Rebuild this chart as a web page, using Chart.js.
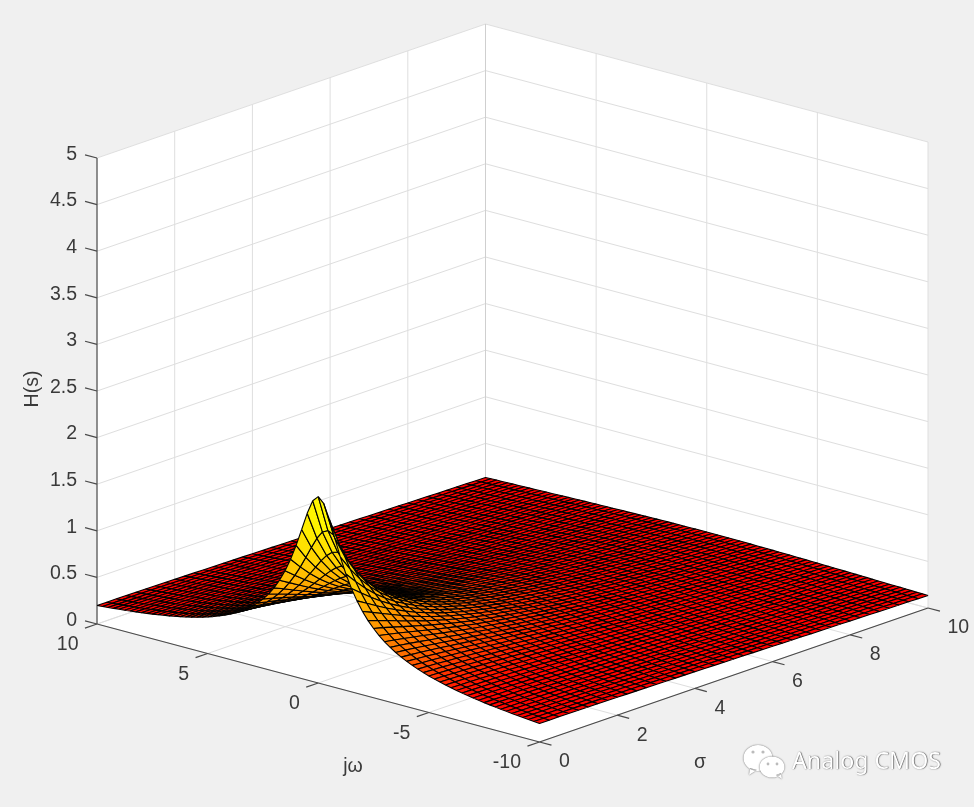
<!DOCTYPE html>
<html><head><meta charset="utf-8">
<style>html,body{margin:0;padding:0;background:#f0f0f0}canvas{display:block}</style>
<script src="https://cdn.jsdelivr.net/npm/chart.js@4"></script>
</head><body><canvas id="c" width="974" height="807"></canvas>
<script>
const sigmaTicks=[0,2,4,6,8,10];
const omegaTicks=[10,5,0,-5,-10];
const zTicks=[0,0.5,1,1.5,2,2.5,3,3.5,4,4.5,5];
const zTickLabels=['0','0.5','1','1.5','2','2.5','3','3.5','4','4.5','5'];
const sigmaGrid=[0,.25,.5,.75,1,1.25,1.5,1.75,2,2.25,2.5,2.75,3,3.25,3.5,3.75,4,4.25,4.5,4.75,5,5.25,5.5,5.75,6,6.25,6.5,6.75,7,7.25,7.5,7.75,8,8.25,8.5,8.75,9,9.25,9.5,9.75,10];
const omegaMagnitudes=[0,.25,.5,.75,1,1.25,1.5,1.75,2,2.25,2.5,2.75,3,3.25,3.5,3.75,4,4.25,4.5,4.75,5,5.25,5.5,5.75,6,6.25,6.5,6.75,7,7.25,7.5,7.75,8,8.25,8.5,8.75,9,9.25,9.5,9.75,10];
const omegaGrid=[10,9.75,9.5,9.25,9,8.75,8.5,8.25,8,7.75,7.5,7.25,7,6.75,6.5,6.25,6,5.75,5.5,5.25,5,4.75,4.5,4.25,4,3.75,3.5,3.25,3,2.75,2.5,2.25,2,1.75,1.5,1.25,1,.75,.5,.25,0,-.25,-.5,-.75,-1,-1.25,-1.5,-1.75,-2,-2.25,-2.5,-2.75,-3,-3.25,-3.5,-3.75,-4,-4.25,-4.5,-4.75,-5,-5.25,-5.5,-5.75,-6,-6.25,-6.5,-6.75,-7,-7.25,-7.5,-7.75,-8,-8.25,-8.5,-8.75,-9,-9.25,-9.5,-9.75,-10];
// |H(s)|: one row per |jω|, one value per σ in sigmaGrid
const magnitudeRows=[
[2,1.6,1.333,1.143,1,.889,.8,.727,.667,.615,.571,.533,.5,.471,.444,.421,.4,.381,.364,.348,.333,.32,.308,.296,.286,.276,.267,.258,.25,.242,.235,.229,.222,.216,.211,.205,.2,.195,.19,.186,.182],
[1.94,1.569,1.315,1.131,.992,.883,.796,.724,.664,.614,.57,.532,.499,.47,.444,.42,.4,.381,.363,.348,.333,.32,.307,.296,.286,.276,.267,.258,.25,.242,.235,.229,.222,.216,.21,.205,.2,.195,.19,.186,.182],
[1.789,1.486,1.265,1.099,.97,.868,.784,.716,.658,.608,.566,.529,.496,.467,.442,.419,.398,.379,.362,.347,.332,.319,.307,.296,.285,.275,.266,.258,.25,.242,.235,.228,.222,.216,.21,.205,.2,.195,.19,.186,.182],
[1.6,1.372,1.193,1.05,.936,.843,.766,.702,.647,.6,.559,.523,.491,.463,.438,.416,.396,.377,.36,.345,.331,.318,.306,.294,.284,.274,.265,.257,.249,.241,.234,.228,.221,.216,.21,.205,.199,.195,.19,.186,.181],
[1.414,1.249,1.109,.992,.894,.812,.743,.683,.632,.588,.549,.515,.485,.458,.434,.412,.392,.374,.358,.343,.329,.316,.304,.293,.283,.273,.264,.256,.248,.241,.234,.227,.221,.215,.209,.204,.199,.194,.19,.185,.181],
[1.249,1.131,1.024,.93,.848,.777,.716,.662,.615,.574,.538,.506,.477,.451,.428,.407,.388,.371,.355,.34,.326,.314,.302,.291,.281,.272,.263,.255,.247,.24,.233,.226,.22,.214,.209,.203,.198,.194,.189,.185,.181],
[1.109,1.024,.943,.868,.8,.74,.686,.638,.596,.559,.525,.495,.468,.444,.422,.402,.383,.366,.351,.337,.323,.311,.3,.289,.279,.27,.261,.253,.246,.239,.232,.225,.219,.213,.208,.203,.198,.193,.189,.184,.18],
[.992,.93,.868,.808,.753,.702,.655,.614,.576,.542,.511,.483,.458,.435,.414,.395,.378,.361,.347,.333,.32,.308,.297,.287,.277,.268,.26,.252,.244,.237,.23,.224,.218,.212,.207,.202,.197,.192,.188,.184,.18],
[.894,.848,.8,.753,.707,.664,.625,.588,.555,.524,.496,.471,.447,.426,.406,.388,.371,.356,.342,.329,.316,.305,.294,.284,.275,.266,.258,.25,.243,.236,.229,.223,.217,.211,.206,.201,.196,.192,.187,.183,.179],
[.812,.777,.74,.702,.664,.629,.595,.563,.533,.506,.481,.457,.436,.416,.398,.381,.365,.35,.337,.324,.312,.301,.291,.281,.272,.263,.255,.248,.241,.234,.227,.221,.216,.21,.205,.2,.195,.191,.186,.182,.178],
[.743,.716,.686,.655,.625,.595,.566,.538,.512,.488,.465,.444,.424,.406,.389,.373,.358,.344,.331,.319,.308,.297,.287,.278,.269,.261,.253,.246,.239,.232,.226,.22,.214,.209,.204,.199,.194,.19,.185,.181,.177],
[.683,.662,.638,.614,.588,.563,.538,.514,.491,.47,.449,.43,.412,.395,.379,.364,.35,.337,.325,.314,.303,.293,.283,.274,.266,.258,.25,.243,.236,.23,.224,.218,.213,.207,.202,.197,.193,.188,.184,.18,.176],
[.632,.615,.596,.576,.555,.533,.512,.491,.471,.452,.434,.416,.4,.384,.37,.356,.343,.331,.319,.308,.298,.288,.279,.271,.263,.255,.248,.241,.234,.228,.222,.216,.211,.206,.201,.196,.192,.187,.183,.179,.175],
[.588,.574,.559,.542,.524,.506,.488,.469,.452,.435,.418,.403,.388,.373,.36,.347,.335,.324,.313,.302,.293,.283,.275,.267,.259,.252,.245,.238,.232,.226,.22,.214,.209,.204,.199,.195,.19,.186,.182,.178,.174],
[.549,.538,.525,.511,.496,.481,.465,.449,.434,.419,.404,.39,.376,.363,.351,.339,.328,.317,.307,.297,.288,.279,.271,.263,.256,.248,.242,.235,.229,.223,.218,.212,.207,.202,.198,.193,.189,.185,.181,.177,.173],
[.515,.506,.495,.483,.471,.457,.444,.43,.416,.403,.39,.377,.365,.353,.341,.33,.32,.31,.3,.291,.283,.274,.266,.259,.252,.245,.239,.232,.226,.221,.215,.21,.205,.2,.196,.191,.187,.183,.179,.176,.172],
[.485,.477,.468,.458,.447,.436,.424,.412,.4,.388,.376,.365,.354,.343,.332,.322,.312,.303,.294,.286,.277,.27,.262,.255,.248,.242,.235,.229,.224,.218,.213,.208,.203,.198,.194,.19,.186,.182,.178,.174,.171],
[.458,.451,.444,.435,.426,.416,.406,.395,.384,.373,.363,.353,.343,.333,.323,.314,.305,.296,.288,.28,.272,.265,.258,.251,.244,.238,.232,.226,.221,.216,.21,.205,.201,.196,.192,.188,.184,.18,.177,.173,.169],
[.434,.428,.422,.414,.406,.398,.389,.379,.37,.36,.351,.341,.332,.323,.314,.306,.297,.289,.281,.274,.267,.26,.253,.247,.24,.234,.229,.223,.218,.213,.208,.203,.199,.194,.19,.186,.182,.179,.175,.172,.168],
[.412,.407,.402,.395,.388,.381,.373,.364,.356,.347,.339,.33,.322,.314,.306,.298,.29,.282,.275,.268,.261,.255,.248,.242,.236,.231,.225,.22,.215,.21,.205,.201,.197,.192,.188,.184,.181,.177,.174,.17,.167],
[.392,.388,.383,.378,.371,.365,.358,.35,.343,.335,.328,.32,.312,.305,.297,.29,.283,.276,.269,.262,.256,.25,.244,.238,.232,.227,.222,.217,.212,.207,.203,.198,.194,.19,.186,.183,.179,.175,.172,.169,.166],
[.374,.371,.366,.361,.356,.35,.344,.337,.331,.324,.317,.31,.303,.296,.289,.282,.276,.269,.263,.257,.251,.245,.239,.234,.229,.223,.218,.214,.209,.204,.2,.196,.192,.188,.184,.181,.177,.174,.17,.167,.164],
[.358,.355,.351,.347,.342,.337,.331,.325,.319,.313,.307,.3,.294,.288,.281,.275,.269,.263,.257,.251,.246,.24,.235,.23,.225,.22,.215,.21,.206,.202,.198,.194,.19,.186,.182,.179,.175,.172,.169,.166,.163],
[.343,.34,.337,.333,.329,.324,.319,.314,.308,.303,.297,.291,.286,.28,.274,.268,.262,.257,.251,.246,.241,.235,.23,.226,.221,.216,.212,.207,.203,.199,.195,.191,.187,.184,.18,.177,.173,.17,.167,.164,.161],
[.329,.326,.323,.32,.316,.312,.308,.303,.298,.293,.288,.283,.277,.272,.267,.261,.256,.251,.246,.241,.236,.231,.226,.221,.217,.213,.208,.204,.2,.196,.192,.189,.185,.181,.178,.175,.171,.168,.165,.162,.16],
[.316,.314,.311,.308,.305,.301,.297,.293,.288,.284,.279,.275,.27,.265,.26,.255,.25,.245,.24,.235,.231,.226,.222,.217,.213,.209,.205,.201,.197,.193,.189,.186,.182,.179,.176,.173,.169,.166,.163,.161,.158],
[.304,.302,.3,.297,.294,.291,.287,.283,.279,.275,.271,.267,.262,.258,.253,.248,.244,.239,.235,.23,.226,.222,.218,.213,.209,.205,.202,.198,.194,.19,.187,.183,.18,.177,.174,.171,.168,.165,.162,.159,.157],
[.293,.291,.289,.287,.284,.281,.278,.274,.271,.267,.263,.259,.255,.251,.246,.242,.238,.234,.23,.225,.221,.217,.213,.209,.205,.202,.198,.195,.191,.188,.184,.181,.178,.175,.172,.169,.166,.163,.16,.158,.155],
[.283,.281,.279,.277,.275,.272,.269,.266,.263,.259,.256,.252,.248,.244,.24,.236,.232,.229,.225,.221,.217,.213,.209,.206,.202,.198,.195,.192,.188,.185,.182,.178,.175,.172,.169,.167,.164,.161,.158,.156,.153],
[.273,.272,.27,.268,.266,.263,.261,.258,.255,.252,.249,.245,.242,.238,.234,.231,.227,.224,.22,.216,.213,.209,.205,.202,.198,.195,.192,.188,.185,.182,.179,.176,.173,.17,.167,.165,.162,.159,.157,.154,.152],
[.264,.263,.261,.26,.258,.255,.253,.25,.248,.245,.242,.239,.235,.232,.229,.225,.222,.218,.215,.212,.208,.205,.202,.198,.195,.192,.189,.185,.182,.179,.176,.174,.171,.168,.165,.163,.16,.157,.155,.153,.15],
[.256,.255,.253,.252,.25,.248,.246,.243,.241,.238,.235,.232,.229,.226,.223,.22,.217,.213,.21,.207,.204,.201,.198,.195,.191,.188,.185,.182,.179,.176,.174,.171,.168,.166,.163,.161,.158,.155,.153,.151,.148],
[.248,.247,.246,.244,.243,.241,.239,.236,.234,.232,.229,.226,.224,.221,.218,.215,.212,.209,.206,.203,.2,.197,.194,.191,.188,.185,.182,.18,.177,.174,.171,.169,.166,.164,.161,.159,.156,.154,.152,.149,.147],
[.241,.24,.239,.237,.236,.234,.232,.23,.228,.226,.223,.221,.218,.215,.213,.21,.207,.205,.202,.199,.196,.193,.19,.187,.185,.182,.179,.177,.174,.171,.169,.166,.164,.161,.159,.157,.154,.152,.15,.148,.145],
[.234,.233,.232,.23,.229,.227,.226,.224,.222,.22,.218,.215,.213,.21,.208,.205,.203,.2,.198,.195,.192,.19,.187,.184,.182,.179,.176,.174,.171,.169,.166,.164,.162,.159,.157,.155,.152,.15,.148,.146,.144],
[.227,.226,.225,.224,.223,.221,.22,.218,.216,.214,.212,.21,.208,.206,.203,.201,.198,.196,.194,.191,.189,.186,.184,.181,.178,.176,.173,.171,.169,.166,.164,.162,.159,.157,.155,.153,.151,.148,.146,.144,.143],
[.221,.22,.219,.218,.217,.216,.214,.213,.211,.209,.207,.205,.203,.201,.199,.197,.194,.192,.19,.187,.185,.183,.18,.178,.175,.173,.171,.168,.166,.164,.162,.159,.157,.155,.153,.151,.149,.147,.145,.143,.141],
[.215,.214,.213,.212,.211,.21,.209,.207,.206,.204,.202,.2,.198,.196,.194,.192,.19,.188,.186,.184,.182,.179,.177,.175,.172,.17,.168,.166,.164,.161,.159,.157,.155,.153,.151,.149,.147,.145,.143,.141,.139],
[.209,.209,.208,.207,.206,.205,.204,.202,.201,.199,.198,.196,.194,.192,.19,.188,.186,.184,.182,.18,.178,.176,.174,.172,.169,.167,.165,.163,.161,.159,.157,.155,.153,.151,.149,.147,.145,.143,.141,.139,.138],
[.204,.203,.203,.202,.201,.2,.199,.198,.196,.195,.193,.192,.19,.188,.186,.184,.182,.18,.179,.177,.175,.173,.171,.169,.167,.165,.163,.161,.159,.157,.155,.153,.151,.149,.147,.145,.143,.141,.14,.138,.136],
[.199,.198,.198,.197,.196,.195,.194,.193,.192,.19,.189,.187,.186,.184,.182,.181,.179,.177,.175,.173,.171,.17,.168,.166,.164,.162,.16,.158,.156,.154,.152,.151,.149,.147,.145,.143,.141,.14,.138,.136,.135]
];
const magnitudeAt=(i,j)=>magnitudeRows[omegaMagnitudes.indexOf(Math.abs(omegaGrid[j]))][i];
const colorHeights=[.135,.28,.4,.5,.8,1.2,1.6,2];
const colorGreens=[0,6,60,105,160,210,240,255];

// 3-D view: where the box corner and its three edges land on the picture
const view={ox:97,oy:624,sx:38.85,sy:-13.4,wx:-22.125,wy:-5.9,zy:-93.2,w0:10};
const project=(s,w,z)=>({x:view.ox+s*view.sx+(w-view.w0)*view.wx,y:view.oy+s*view.sy+(w-view.w0)*view.wy+z*view.zy});
const GRID='#dedede',AXIS='#4a4a4a',INK='#3a3a3a';
const stroke=(pts,color,width)=>({data:pts,borderColor:color,borderWidth:width,fill:false,showLine:true,pointRadius:0,borderJoinStyle:'round'});
const poly=(pts,bg,color,width)=>({data:pts.concat([pts[0]]),backgroundColor:bg,borderColor:color,borderWidth:width,fill:'shape',showLine:true,pointRadius:0,borderJoinStyle:'bevel'});
const back=[];
const p=project;
// walls and floor
back.push(poly([p(0,10,0),p(10,10,0),p(10,10,5),p(0,10,5)],'#fff','#fff',0));
back.push(poly([p(10,10,0),p(10,-10,0),p(10,-10,5),p(10,10,5)],'#fff','#fff',0));
back.push(poly([p(0,10,0),p(10,10,0),p(10,-10,0),p(0,-10,0)],'#fff','#fff',0));
// grid
for(const z of zTicks){back.push(stroke([p(0,10,z),p(10,10,z),p(10,-10,z)],GRID,1));}
for(const s of sigmaTicks){back.push(stroke([p(s,-10,0),p(s,10,0),p(s,10,5)],GRID,1));}
for(const w of omegaTicks){back.push(stroke([p(0,w,0),p(10,w,0),p(10,w,5)],GRID,1));}
back.push(stroke([p(10,10,0),p(10,10,5)],'#cfcfcf',1));
// axes
back.push(stroke([p(0,10,0),p(0,10,5)],'#303030',1));
back.push(stroke([p(0,10,0),p(0,-10,0)],AXIS,1.2));
back.push(stroke([p(0,-10,0),p(10,-10,0)],AXIS,1.2));
for(const z of zTicks){back.push(stroke([p(0,10,z),p(0,10.54,z)],AXIS,1.2));}
for(const w of omegaTicks){back.push(stroke([p(0,w,0),p(-.31,w,0)],AXIS,1.2));}
for(const s of sigmaTicks){back.push(stroke([p(s,-10,0),p(s,-10.54,0)],AXIS,1.2));}
// surface, far cells first
const shade=z=>{let k=0;while(k<colorHeights.length-2&&z>colorHeights[k+1])k++;
  const t=Math.min(1,Math.max(0,(z-colorHeights[k])/(colorHeights[k+1]-colorHeights[k])));
  return 'rgb(255,'+Math.round(colorGreens[k]+t*(colorGreens[k+1]-colorGreens[k]))+',0)';};
for(let i=sigmaGrid.length-2;i>=0;i--){
  for(let j=0;j<omegaGrid.length-1;j++){
    const a=magnitudeAt(i,j),b=magnitudeAt(i+1,j),c=magnitudeAt(i+1,j+1),d=magnitudeAt(i,j+1);
    back.push(poly([p(sigmaGrid[i],omegaGrid[j],a),p(sigmaGrid[i+1],omegaGrid[j],b),p(sigmaGrid[i+1],omegaGrid[j+1],c),p(sigmaGrid[i],omegaGrid[j+1],d)],shade((a+b+c+d)/4),'#000',1.1));
  }
}
const textPlugin={id:'boxText',afterDraw(chart){
  const {ctx,scales:{x,y}}=chart;
  const at=pt=>({x:x.getPixelForValue(pt.x),y:y.getPixelForValue(pt.y)});
  const put=(t,pos,dx,dy,align,font)=>{ctx.font=font||'19.5px "Liberation Sans"';ctx.textAlign=align;ctx.textBaseline='middle';ctx.fillStyle=INK;ctx.fillText(t,pos.x+dx,pos.y+dy);};
  ctx.save();
  zTicks.forEach((z,i)=>put(zTickLabels[i],at(p(0,10,z)),-20,-3.5,'right'));
  omegaTicks.forEach(w=>put(String(w),at(p(0,w,0)),-18.5,21,'right'));
  sigmaTicks.forEach(s=>put(String(s),at(p(s,-10,0)),19.5,20,'left'));
  put('σ',{x:700,y:763},0,0,'center');
  put('jω',{x:353,y:767},0,0,'center');
  ctx.translate(33,389);ctx.rotate(-Math.PI/2);put('H(s)',{x:0,y:0},0,0,'center');
  ctx.restore();
  // watermark
  ctx.save();
  ctx.shadowColor='rgba(0,0,0,.7)';ctx.shadowBlur=1.5;ctx.fillStyle='#fff';
  ctx.beginPath();ctx.ellipse(758,758,14.5,13,0,0,7);ctx.moveTo(750,768);ctx.lineTo(749,775);ctx.lineTo(757,770);ctx.fill();
  ctx.beginPath();ctx.ellipse(772,767,12.5,10.5,0,0,7);ctx.moveTo(776,775);ctx.lineTo(782,779);ctx.lineTo(781,773);ctx.fill();
  ctx.shadowBlur=0;ctx.fillStyle='#bbb';
  for(const [cx,cy,r] of [[753,752,1.6],[763,752,1.6],[768,764,1.4],[777,764,1.4]]){ctx.beginPath();ctx.arc(cx,cy,r,0,7);ctx.fill();}
  ctx.shadowColor='rgba(0,0,0,.85)';ctx.shadowBlur=1.2;ctx.shadowOffsetX=.5;ctx.shadowOffsetY=.5;ctx.fillStyle='#fff';
  ctx.font='23.2px "Noto Sans"';ctx.textAlign='left';ctx.textBaseline='middle';ctx.fillText('Analog CMOS',792,762);
  ctx.restore();
}};
new Chart(document.getElementById('c'),{type:'scatter',
  data:{datasets:back.reverse()},
  options:{responsive:false,animation:false,events:[],layout:{padding:0},
    plugins:{legend:{display:false},tooltip:{enabled:false},title:{display:false}},
    scales:{x:{type:'linear',min:0,max:974,display:false},y:{type:'linear',min:0,max:807,reverse:true,display:false}}},
  plugins:[textPlugin]});
</script></body></html>
